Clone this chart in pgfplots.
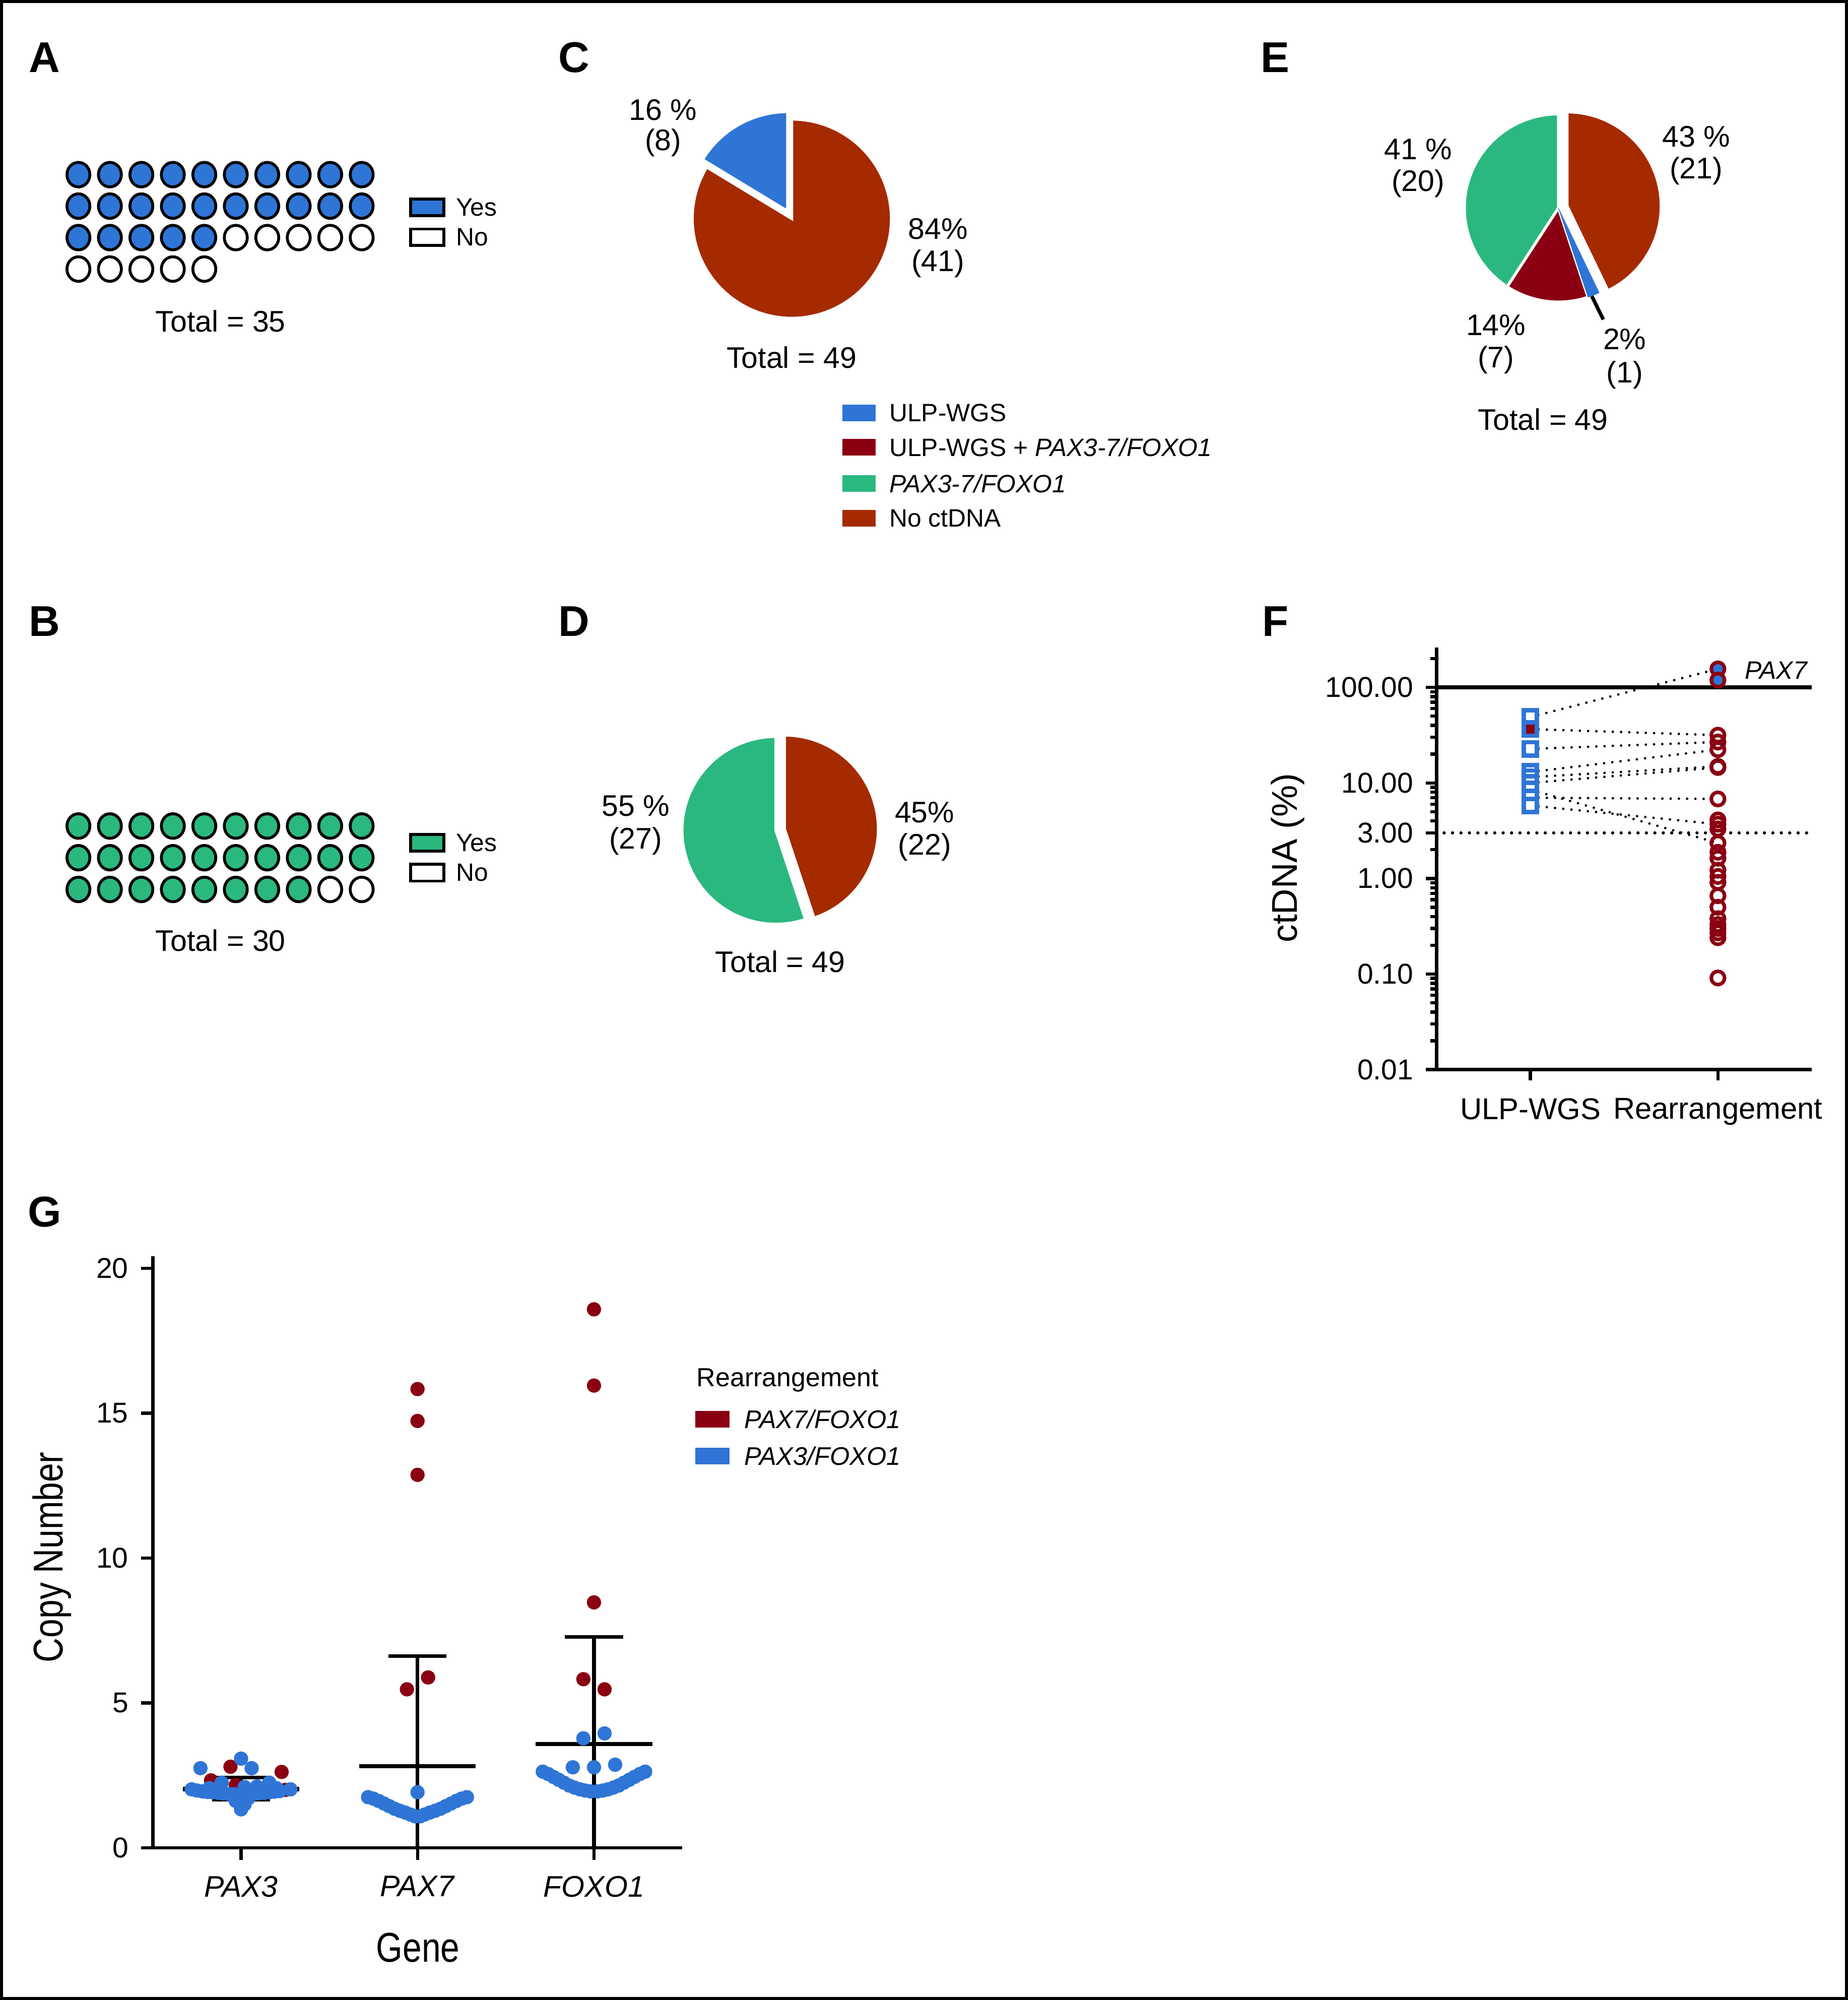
\documentclass[border=0pt]{standalone}
\usepackage{pgfplots}
\pgfplotsset{compat=1.18}
\usepackage{fontspec}
\setmainfont{Liberation Sans}
\newfontfamily\narrow{Liberation Sans}[FakeStretch=0.82]
\definecolor{cblue}{HTML}{2E75D6}
\definecolor{cgreen}{HTML}{2AB87F}
\definecolor{cdred}{HTML}{8A0012}
\definecolor{cbrown}{HTML}{A52A00}
\newcommand{\fs}[1]{\fontsize{#1}{#1}\selectfont}
\tikzset{slice/.style={draw=white, line width=0.8pt}}
\pgfplotsset{
  waffle/.style={scale only axis, hide axis, clip=false, xmin=0, xmax=11, width=3.3925cm, anchor=north west},
  wmark/.style={only marks, mark=*, mark size=3.2pt, mark options={draw=black, line width=0.8pt, fill=#1, yscale=1.07}},
  pie/.style={scale only axis, hide axis, clip=false, xmin=-1, xmax=1, ymin=-1, ymax=1, anchor=center},
  dotline/.style={black, line width=0.7pt, dash pattern=on 0pt off 2.3pt, line cap=round},
  gdot/.style={only marks, mark=*, mark size=1.8pt, color=#1},
}
\begin{document}
\begin{tikzpicture}
\begin{scope}[x=0.0125cm,y=-0.0125cm]
\useasboundingbox (0,0) rectangle (1449,1568);
\fill[white] (0,0) rectangle (1449,1568);
\draw[line width=0.8pt] (1.2,1.2) rectangle (1447.8,1566.8);
\foreach \l/\px/\py in {A/35/45,B/35/487,C/450/45,D/450/487,E/1000/45,F/1000/487,G/35/950}
  \node[font=\fs{12}\bfseries] at (\px,\py) {\l};
% ---- A / B texts and legends
\node[font=\fs{8.3}] at (173,251.6) {Total = 35};
\node[font=\fs{8.3}] at (173,737.2) {Total = 30};
\draw[line width=0.8pt, fill=cblue] (322,156) rectangle (348,169);
\draw[line width=0.8pt, fill=white] (322,179.5) rectangle (348,192.5);
\node[font=\fs{7}, anchor=west, inner sep=0pt] at (357,162.5) {Yes};
\node[font=\fs{7}, anchor=west, inner sep=0pt] at (357,186) {No};
\draw[line width=0.8pt, fill=cgreen] (322,654.3) rectangle (348,667.2);
\draw[line width=0.8pt, fill=white] (322,677.4) rectangle (348,690.8);
\node[font=\fs{7}, anchor=west, inner sep=0pt] at (357,660.7) {Yes};
\node[font=\fs{7}, anchor=west, inner sep=0pt] at (357,684) {No};
% ---- C texts and legend
\node[font=\fs{8.3}] at (520,86) {16 \%};
\node[font=\fs{8.3}] at (520,112) {(8)};
\node[font=\fs{8.3}] at (735.5,179.5) {84\%};
\node[font=\fs{8.3}] at (735.5,206.5) {(41)};
\node[font=\fs{8.3}] at (620.7,280.3) {Total = 49};
\fill[cblue] (660.6,317.1) rectangle (686.6,330.1);
\fill[cdred] (660.6,344.1) rectangle (686.6,357.1);
\fill[cgreen] (660.6,372.5) rectangle (686.6,385.5);
\fill[cbrown] (660.6,399.9) rectangle (686.6,412.9);
\node[font=\fs{7}, anchor=west, inner sep=0pt] at (696.8,323.6) {ULP-WGS};
\node[font=\fs{7}, anchor=west, inner sep=0pt] at (696.8,350.6) {ULP-WGS + \textit{PAX3-7/FOXO1}};
\node[font=\fs{7}, anchor=west, inner sep=0pt] at (696.8,379) {\textit{PAX3-7/FOXO1}};
\node[font=\fs{7}, anchor=west, inner sep=0pt] at (696.8,406.4) {No ctDNA};
% ---- D texts
\node[font=\fs{8.3}] at (498.4,632) {55 \%};
\node[font=\fs{8.3}] at (498.4,659.6) {(27)};
\node[font=\fs{8.3}] at (725,637) {45\%};
\node[font=\fs{8.3}] at (725,664) {(22)};
\node[font=\fs{8.3}] at (611.8,754) {Total = 49};
% ---- E texts
\node[font=\fs{8.3}] at (1330,107) {43 \%};
\node[font=\fs{8.3}] at (1330,134) {(21)};
\node[font=\fs{8.3}] at (1112,117) {41 \%};
\node[font=\fs{8.3}] at (1112,144) {(20)};
\node[font=\fs{8.3}] at (1173,255) {14\%};
\node[font=\fs{8.3}] at (1173,282) {(7)};
\node[font=\fs{8.3}] at (1274,266) {2\%};
\node[font=\fs{8.3}] at (1274,294) {(1)};
\node[font=\fs{8.3}] at (1210,329) {Total = 49};
\draw[line width=1pt] (1248.2,232.1) -- (1257.2,250.5);
% ---- F texts
\node[font=\fs{10}, rotate=90, anchor=base] at (1017,672.5) {ctDNA (\%)};
\node[font=\fs{7}\itshape] at (1392.6,525.6) {PAX7};
% ---- G texts and legend
\node[font=\narrow\fs{11.6}, rotate=90, anchor=base] at (49.3,1220.8) {Copy Number};
\node[font=\narrow\fs{11.6}] at (327.7,1527) {Gene};
\node[font=\fs{7.3}, anchor=base west, inner sep=0pt] at (545.8,1087) {Rearrangement};
\fill[cdred] (545.2,1106.1) rectangle (571.9,1119);
\fill[cblue] (545.2,1134.8) rectangle (571.9,1147.9);
\node[font=\fs{7.1}\itshape, anchor=west, inner sep=0pt] at (583,1112.5) {PAX7/FOXO1};
\node[font=\fs{7.1}\itshape, anchor=west, inner sep=0pt] at (583,1141.4) {PAX3/FOXO1};
\end{scope}

% ================= A waffle
\begin{axis}[waffle, at={(0.46cm,-1.4025cm)}, height=1.5419cm, ymin=-5, ymax=0]
\addplot[wmark=cblue] coordinates {
(1,-1) (2,-1) (3,-1) (4,-1) (5,-1) (6,-1) (7,-1) (8,-1) (9,-1) (10,-1)
(1,-2) (2,-2) (3,-2) (4,-2) (5,-2) (6,-2) (7,-2) (8,-2) (9,-2) (10,-2)
(1,-3) (2,-3) (3,-3) (4,-3) (5,-3)};
\addplot[wmark=white] coordinates {
(6,-3) (7,-3) (8,-3) (9,-3) (10,-3)
(1,-4) (2,-4) (3,-4) (4,-4) (5,-4)};
\end{axis}

% ================= B waffle
\begin{axis}[waffle, at={(0.46cm,-7.782cm)}, height=1.2425cm, ymin=-4, ymax=0]
\addplot[wmark=cgreen] coordinates {
(1,-1) (2,-1) (3,-1) (4,-1) (5,-1) (6,-1) (7,-1) (8,-1) (9,-1) (10,-1)
(1,-2) (2,-2) (3,-2) (4,-2) (5,-2) (6,-2) (7,-2) (8,-2) (9,-2) (10,-2)
(1,-3) (2,-3) (3,-3) (4,-3) (5,-3) (6,-3) (7,-3) (8,-3)};
\addplot[wmark=white] coordinates {(9,-3) (10,-3)};
\end{axis}

% ================= C pie (8 ULP-WGS, 41 no ctDNA)
\begin{axis}[pie, at={(7.759cm,-2.1425cm)}, width=1.95cm, height=1.95cm]
\filldraw[slice, fill=cbrown] (axis cs:0,0) -- ++({90+8/49*360}:0.975cm)
  arc[start angle={90+8/49*360}, end angle=450, radius=0.975cm] -- cycle;
\filldraw[slice, fill=cblue] (axis cs:0,0) ++({90+4/49*360}:0.084cm) -- ++(90:0.975cm)
  arc[start angle=90, end angle={90+8/49*360}, radius=0.975cm] -- cycle;
\end{axis}

% ================= D pie (27 PAX3-7/FOXO1, 22 no ctDNA)
\begin{axis}[pie, at={(7.6025cm,-8.135cm)}, width=1.8375cm, height=1.8375cm]
\filldraw[slice, fill=cgreen] (axis cs:0,0) -- ++(90:0.919cm)
  arc[start angle=90, end angle={90+27/49*360}, radius=0.919cm] -- cycle;
\filldraw[slice, fill=cbrown] (axis cs:0,0) ++({90+27/49*360+11/49*360}:0.086cm) -- ++({90+27/49*360}:0.919cm)
  arc[start angle={90+27/49*360}, end angle=450, radius=0.919cm] -- cycle;
\end{axis}

% ================= E pie (20 PAX, 7 ULP+PAX, 1 ULP, 21 none)
\begin{axis}[pie, at={(15.271cm,-2.0375cm)}, width=1.8425cm, height=1.8425cm]
\filldraw[slice, fill=cgreen] (axis cs:0,0) -- ++(90:0.921cm)
  arc[start angle=90, end angle={90+20/49*360}, radius=0.921cm] -- cycle;
\filldraw[slice, fill=cdred] (axis cs:0,0) -- ++({90+20/49*360}:0.921cm)
  arc[start angle={90+20/49*360}, end angle={90+27/49*360}, radius=0.921cm] -- cycle;
\filldraw[fill=cblue, draw=cblue, line width=0.1pt] (axis cs:0,0) -- ++({90+27/49*360}:0.921cm)
  arc[start angle={90+27/49*360}, end angle={90+28/49*360}, radius=0.921cm] -- cycle;
\filldraw[slice, fill=cbrown] (axis cs:0,0) ++({90+28/49*360+10.5/49*360}:0.0875cm) -- ++({90+28/49*360}:0.921cm)
  arc[start angle={90+28/49*360}, end angle=450, radius=0.921cm] -- cycle;
\end{axis}

% ================= F ctDNA
\begin{axis}[at={(14.0775cm,-10.479cm)}, anchor=south west, scale only axis,
  width=3.675cm, height=4.135cm, ymode=log, xmin=0.5, xmax=2.5, ymin=0.01, ymax=261, clip=false,
  axis x line*=bottom, axis y line*=left, axis line style={-, line width=0.9pt},
  xtick={1,2}, xticklabels={ULP-WGS,Rearrangement},
  ytick={0.01,0.1,1,3,10,100}, yticklabels={0.01,0.10,1.00,3.00,10.00,100.00},
  minor ytick={0.02,0.03,0.04,0.05,0.06,0.07,0.08,0.09,0.2,0.3,0.4,0.5,0.6,0.7,0.8,0.9,2,4,5,6,7,8,9,20,30,40,50,60,70,80,90,200},
  tick align=outside, major tick length=3pt, minor tick length=1.7pt,
  tick style={black, line width=0.9pt},
  y tick label style={font=\fs{8}},
  x tick label style={font=\fs{8.4}, yshift=-1.5pt}]
\addplot[black, line width=1.1pt] coordinates {(0.5,100) (2.5,100)};
\addplot[black, line width=0.9pt, dash pattern=on 0pt off 2.35pt, line cap=round] coordinates {(0.54,3) (2.48,3)};
\addplot[only marks, mark=square*, mark size=1.85pt, mark options={draw=cblue, fill=white, line width=1.25pt}]
  coordinates {(1,48.9) (1,22.7) (1,13.0) (1,11.5) (1,10.0) (1,8.5) (1,7.0) (1,5.8)};
\addplot[only marks, mark=square*, mark size=1.85pt, mark options={draw=cblue, fill=cdred, line width=1.25pt}]
  coordinates {(1,36.6)};
\addplot[only marks, mark=o, mark size=1.85pt, mark options={draw=cdred, line width=1pt}]
  coordinates {(2,31.6) (2,26.8) (2,22.3) (2,14.9) (2,14.5) (2,6.8) (2,4.1) (2,3.7) (2,3.3) (2,2.35)
  (2,1.88) (2,1.63) (2,1.22) (2,1.05) (2,0.91) (2,0.66) (2,0.50) (2,0.38) (2,0.33) (2,0.30)
  (2,0.27) (2,0.24) (2,0.091)};
\addplot[only marks, mark=*, mark size=1.85pt, mark options={draw=cdred, fill=cblue, line width=1pt}]
  coordinates {(2,156) (2,119)};
\addplot[dotline] coordinates {(1,48.9) (2,156)};
\addplot[dotline] coordinates {(1,36.6) (2,31.6)};
\addplot[dotline] coordinates {(1,22.7) (2,26.8)};
\addplot[dotline] coordinates {(1,13.0) (2,22.3)};
\addplot[dotline] coordinates {(1,11.5) (2,14.9)};
\addplot[dotline] coordinates {(1,10.0) (2,14.5)};
\addplot[dotline] coordinates {(1,8.5) (2,2.35)};
\addplot[dotline] coordinates {(1,7.0) (2,6.8)};
\addplot[dotline] coordinates {(1,5.8) (2,3.7)};
\end{axis}

% ================= G copy number
\begin{axis}[at={(1.4975cm,-18.104cm)}, anchor=south west, scale only axis,
  width=5.1875cm, height=5.796cm, xmin=0.5, xmax=3.5, ymin=0, ymax=20.41, clip=false,
  axis x line*=bottom, axis y line*=left, axis line style={-, line width=0.9pt},
  xtick={1,2,3}, xticklabels={\textit{PAX3},\textit{PAX7},\textit{FOXO1}},
  ytick={0,5,10,15,20}, yticklabels={0,5,10,15,20},
  tick align=outside, major tick length=3.3pt, tick style={black, line width=0.9pt},
  y tick label style={font=\fs{8}},
  x tick label style={font=\fs{8.3}, yshift=-1pt}]
% PAX3
\addplot[gdot=cdred] coordinates {(0.94,2.80) (1.23,2.62) (0.83,2.33) (0.97,2.17) (1.25,2.00)};
\addplot[gdot=cblue] coordinates {
(1.00,3.08) (0.77,2.75) (1.06,2.75) (1.16,2.25) (0.89,2.25)
(0.72,2.02) (0.75,1.98) (0.78,1.95) (0.81,1.93) (0.84,1.92) (0.87,1.90) (0.90,1.88) (0.93,1.86) (0.96,1.85)
(1.00,1.84) (1.04,1.85) (1.07,1.87) (1.10,1.88) (1.13,1.90) (1.16,1.92) (1.19,1.94) (1.22,1.96)
(1.28,2.02) (0.88,2.10) (1.02,2.10) (1.09,2.12) (1.15,2.08) (0.82,2.06) (1.20,2.06)
(1.00,1.33) (1.02,1.50) (0.97,1.62) (1.04,1.70)};
% PAX7
\addplot[gdot=cblue] coordinates {
(2.00,1.92) (1.72,1.75) (1.75,1.70) (1.78,1.62) (1.81,1.53) (1.84,1.44) (1.87,1.35) (1.90,1.28)
(1.93,1.22) (1.96,1.15) (1.985,1.09) (2.015,1.09) (2.04,1.15) (2.07,1.22) (2.10,1.28) (2.13,1.35)
(2.16,1.44) (2.19,1.53) (2.22,1.62) (2.25,1.70) (2.28,1.75)};
\addplot[gdot=cdred] coordinates {(2,15.83) (2,14.73) (2,12.87) (1.94,5.47) (2.06,5.88)};
% FOXO1
\addplot[gdot=cblue] coordinates {
(2.94,3.78) (3.06,3.95) (2.88,2.78) (3.00,2.78) (3.12,2.87)
(2.71,2.63) (2.74,2.55) (2.77,2.45) (2.80,2.35) (2.83,2.25) (2.86,2.15) (2.89,2.08) (2.92,2.02)
(2.95,1.98) (2.98,1.95) (3.02,1.95) (3.05,1.98) (3.08,2.02) (3.11,2.08) (3.14,2.15) (3.17,2.25)
(3.20,2.35) (3.23,2.45) (3.26,2.55) (3.29,2.63)};
\addplot[gdot=cdred] coordinates {(3,18.58) (3,15.95) (3,8.47) (2.94,5.82) (3.06,5.47)};
% mean and SD
\addplot[black, line width=1.2pt] coordinates {(0.67,2.03) (1.33,2.03)};
\addplot[black, line width=1pt] coordinates {(1,1.67) (1,2.42)};
\addplot[black, line width=1pt] coordinates {(0.835,2.42) (1.165,2.42)};
\addplot[black, line width=1pt] coordinates {(0.835,1.67) (1.165,1.67)};
\addplot[black, line width=1.2pt] coordinates {(1.67,2.82) (2.33,2.82)};
\addplot[black, line width=1pt] coordinates {(2,0) (2,6.62)};
\addplot[black, line width=1pt] coordinates {(1.835,6.62) (2.165,6.62)};
\addplot[black, line width=1.2pt] coordinates {(2.67,3.58) (3.33,3.58)};
\addplot[black, line width=1pt] coordinates {(3,0) (3,7.28)};
\addplot[black, line width=1pt] coordinates {(2.835,7.28) (3.165,7.28)};
\end{axis}
\end{tikzpicture}
\end{document}
